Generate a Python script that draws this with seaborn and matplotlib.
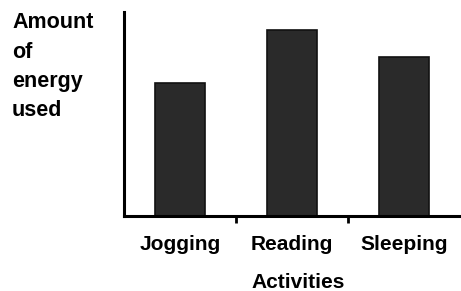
import matplotlib
matplotlib.use("Agg")
import matplotlib.pyplot as plt
import seaborn as sns
import pandas as pd

activities = ["Jogging", "Reading", "Sleeping"]
energy = [6.5, 9.1, 7.8]

sns.set_style("white")
plt.rcParams['font.family'] = ['Liberation Sans', 'DejaVu Sans']
plt.rcParams['text.color'] = 'black'
plt.rcParams['axes.labelcolor'] = 'black'
plt.rcParams['xtick.color'] = 'black'

df = pd.DataFrame({"Activities": activities, "Energy": energy})

fig = plt.figure(figsize=(4.61, 2.91), dpi=100)
ax = fig.add_axes([124/461, 1 - 216/291, (460-124)/461, (216-12)/291])
sns.barplot(data=df, x="Activities", y="Energy", color="#2a2a2a",
            width=0.45, edgecolor="#111111", linewidth=1.2, saturation=1, ax=ax)
ax.set_xlim(-0.5, 2.5)
ax.set_ylim(0, 10)
for s in ["top", "right"]:
    ax.spines[s].set_visible(False)
for s in ["left", "bottom"]:
    ax.spines[s].set_color("black")
    ax.spines[s].set_linewidth(2.2)
ax.set_yticks([])
ax.set_xticks([0, 1, 2])
ax.set_xticklabels(activities, fontsize=15, fontweight="bold", color="black")
ax.tick_params(axis="x", which="major", length=0, pad=14)
ax.set_xticks([0.5, 1.5], minor=True)
ax.tick_params(axis="x", which="minor", bottom=True, length=5, width=2,
               direction="out", color="black")
ax.set_xlabel("")
ax.set_ylabel("")
fig.text(298/461, 1 - 283/291, "Activities", fontsize=15, fontweight="bold",
         ha="center", va="center", color="black")

ylab_lines = ["Amount", "of", "energy", "used"]
ys = [22, 52, 81, 110]
for t, y in zip(ylab_lines, ys):
    fig.text(12/461, 1 - y/291, t, fontsize=15.5, fontweight="bold",
             va="center", ha="left", color="black")

fig.savefig("out.png", dpi=100)
